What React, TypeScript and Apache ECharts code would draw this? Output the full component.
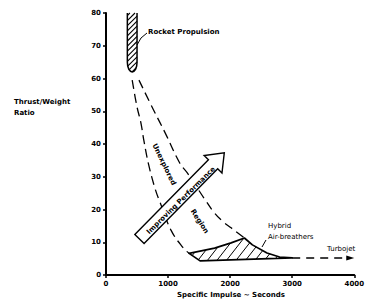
import React, { useEffect, useRef } from "react";
import * as echarts from "echarts";

const xAxisTicks = [0, 1000, 2000, 3000, 4000];
const yAxisTicks = [0, 10, 20, 30, 40, 50, 60, 70, 80];

// Rocket propulsion region (hatched)
const rocketX = [344, 344, 350, 368, 395, 422, 449, 476, 494, 500, 500];
const rocketY = [80, 65, 63.8, 62.8, 62.2, 62, 62.2, 62.8, 63.8, 65, 80];

// Hybrid air-breathers region (hatched)
const hybridX = [1339, 1750, 2016, 2230, 2359, 2594, 2797, 3000, 1516];
const hybridY = [6.6, 8.2, 9.8, 11.3, 9.2, 6.7, 5.5, 5.2, 4.3];

// Unexplored region bounds (dashed)
const lowerBoundX = [422, 500, 563, 609, 688, 797, 875, 1047, 1234, 1339];
const lowerBoundY = [59.5, 51.3, 46.4, 41.2, 33.6, 26.0, 22.0, 13.7, 8.5, 6.6];
const upperBoundX = [531, 766, 953, 1188, 1313, 1578, 1750, 1891, 2016, 2230];
const upperBoundY = [59.5, 50.4, 43.4, 34.2, 31.1, 23.5, 18.9, 16.2, 14.4, 11.3];

// Turbojet dashed arrow
const turbojetX = [3000, 4000];
const turbojetY = [5.2, 5.2];

// Improving performance arrow (tail -> tip)
const performanceArrowX = [539, 1906];
const performanceArrowY = [11.0, 37.3];

type Pt = number[];

function hatch(pts: Pt[], angleDeg: number, spacing: number): Pt[][] {
  const a = (angleDeg * Math.PI) / 180;
  const d = [Math.cos(a), -Math.sin(a)];
  const n = [Math.sin(a), Math.cos(a)];
  let min = Infinity;
  let max = -Infinity;
  pts.forEach((p) => {
    const c = n[0] * p[0] + n[1] * p[1];
    if (c < min) min = c;
    if (c > max) max = c;
  });
  const segs: Pt[][] = [];
  for (let c = min + spacing / 2; c < max; c += spacing) {
    const hits: Pt[] = [];
    for (let i = 0; i < pts.length; i++) {
      const p = pts[i];
      const q = pts[(i + 1) % pts.length];
      const fa = n[0] * p[0] + n[1] * p[1] - c;
      const fb = n[0] * q[0] + n[1] * q[1] - c;
      if (fa < 0 !== fb < 0) {
        const t = fa / (fa - fb);
        hits.push([p[0] + t * (q[0] - p[0]), p[1] + t * (q[1] - p[1])]);
      }
    }
    hits.sort((u, v) => d[0] * u[0] + d[1] * u[1] - (d[0] * v[0] + d[1] * v[1]));
    for (let k = 0; k + 1 < hits.length; k += 2) segs.push([hits[k], hits[k + 1]]);
  }
  return segs;
}

const BOLD = 'bold 7px "DejaVu Sans"';
const NORMAL = '7px "DejaVu Sans"';

export default function App() {
  const ref = useRef<HTMLDivElement>(null);
  useEffect(() => {
    if (!ref.current) return;
    const chart = echarts.init(ref.current, null, { renderer: "svg" });
    const pairs = (xs: number[], ys: number[]) => xs.map((x, i) => [x, ys[i]]);

    const renderItem = (_params: any, api: any) => {
      const toPx = (xs: number[], ys: number[]) => xs.map((x, i) => api.coord([x, ys[i]]));
      const children: any[] = [];
      const rocket = toPx(rocketX, rocketY);
      hatch(rocket, 45, 3.6).forEach((s) =>
        children.push({
          type: "line",
          shape: { x1: s[0][0], y1: s[0][1], x2: s[1][0], y2: s[1][1] },
          style: { stroke: "#000", lineWidth: 1.1 },
        })
      );
      children.push({
        type: "polyline",
        shape: { points: rocket },
        style: { stroke: "#000", fill: "none", lineWidth: 1.5 },
      });
      const hybrid = toPx(hybridX, hybridY);
      hatch(hybrid, 52, 7.5).forEach((s) =>
        children.push({
          type: "line",
          shape: { x1: s[0][0], y1: s[0][1], x2: s[1][0], y2: s[1][1] },
          style: { stroke: "#000", lineWidth: 1 },
        })
      );
      children.push({
        type: "polygon",
        shape: { points: hybrid },
        style: { stroke: "#000", fill: "none", lineWidth: 1.7, lineJoin: "round" },
      });
      // turbojet
      const t = toPx(turbojetX, turbojetY);
      children.push({
        type: "line",
        shape: { x1: t[0][0], y1: t[0][1], x2: t[1][0] - 6, y2: t[1][1] },
        style: { stroke: "#000", lineWidth: 1.5, lineDash: [8, 6] },
      });
      children.push({
        type: "polygon",
        shape: {
          points: [
            [t[1][0], t[1][1]],
            [t[1][0] - 8, t[1][1] - 2.5],
            [t[1][0] - 8, t[1][1] + 2.5],
          ],
        },
        style: { fill: "#000" },
      });
      // improving performance arrow
      const ar = toPx(performanceArrowX, performanceArrowY);
      const T = ar[0];
      const P = ar[1];
      const L = Math.hypot(P[0] - T[0], P[1] - T[1]);
      const u = [(P[0] - T[0]) / L, (P[1] - T[1]) / L];
      const nv = [-u[1], u[0]];
      const hw = 6.5;
      const hh = 12.5;
      const hl = 16;
      const B = [P[0] - u[0] * hl, P[1] - u[1] * hl];
      const off = (p: Pt, k: number) => [p[0] + nv[0] * k, p[1] + nv[1] * k];
      children.push({
        type: "polygon",
        shape: {
          points: [off(T, hw), off(B, hw), off(B, hh), P, off(B, -hh), off(B, -hw), off(T, -hw)],
        },
        style: { fill: "#fff", stroke: "#000", lineWidth: 1.4, lineJoin: "miter" },
      });
      return { type: "group", children };
    };

    const txt = (text: string, x: number, y: number, font: string, extra: any = {}) => ({
      type: "text",
      x,
      y,
      z: 100,
      rotation: extra.rotation || 0,
      style: {
        text,
        font,
        fill: "#000",
        align: extra.align || "left",
        verticalAlign: "middle",
        lineHeight: extra.lineHeight,
      },
    });
    const deg = (d: number) => (d * Math.PI) / 180;

    chart.setOption({
      animation: false,
      backgroundColor: "#fff",
      grid: { left: 106, right: 5, top: 13, bottom: 27, containLabel: false },
      xAxis: {
        type: "value",
        min: xAxisTicks[0],
        max: xAxisTicks[xAxisTicks.length - 1],
        interval: 1000,
        splitLine: { show: false },
        axisLine: { show: true, lineStyle: { color: "#000", width: 2 } },
        axisTick: { show: true, length: 3, lineStyle: { color: "#000", width: 1.5 } },
        axisLabel: {
          color: "#000",
          fontFamily: "DejaVu Sans",
          fontWeight: "bold",
          fontSize: 7,
          margin: 5,
          showMaxLabel: true,
          formatter: (v: number) => String(v),
        },
      },
      yAxis: {
        type: "value",
        min: yAxisTicks[0],
        max: yAxisTicks[yAxisTicks.length - 1],
        interval: 10,
        splitLine: { show: false },
        axisLine: { show: true, lineStyle: { color: "#000", width: 2 } },
        axisTick: { show: true, length: 3, lineStyle: { color: "#000", width: 1.5 } },
        axisLabel: {
          color: "#000",
          fontFamily: "DejaVu Sans",
          fontWeight: "bold",
          fontSize: 7,
          margin: 5,
          formatter: (v: number) => String(v),
        },
      },
      series: [
        {
          type: "line",
          data: pairs(lowerBoundX, lowerBoundY),
          smooth: 0.4,
          showSymbol: false,
          symbol: "none",
          lineStyle: { color: "#000", width: 1.3, type: [9, 5] },
          z: 2,
        },
        {
          type: "line",
          data: pairs(upperBoundX, upperBoundY),
          smooth: 0.4,
          showSymbol: false,
          symbol: "none",
          lineStyle: { color: "#000", width: 1.3, type: [9, 5] },
          z: 2,
        },
        {
          type: "custom",
          coordinateSystem: "cartesian2d",
          data: [[0, 0]],
          renderItem,
          clip: false,
          silent: true,
          z: 5,
        },
      ],
      graphic: [
        txt("Thrust/Weight\nRatio", 14, 107, BOLD, { lineHeight: 11 }),
        txt("Specific Impulse ~ Seconds", 231, 295, BOLD, { align: "center" }),
        txt("Rocket Propulsion", 148, 32, BOLD),
        txt("Hybrid", 268, 226, NORMAL),
        txt("Air-breathers", 268, 237, NORMAL),
        txt("Turbojet", 327, 249, NORMAL),
        txt("Unexplored", 164, 164.5, BOLD, { align: "center", rotation: deg(-64) }),
        txt("Region", 199.5, 221.5, BOLD, { align: "center", rotation: deg(-57) }),
        txt("Improving Performance", 181, 200.5, BOLD, { align: "center", rotation: deg(44.5) }),
        {
          type: "polyline",
          z: 100,
          shape: { points: [[137, 45], [141, 38], [147, 33]] },
          style: { stroke: "#000", lineWidth: 1, fill: "none" },
        },
        {
          type: "line",
          z: 100,
          shape: { x1: 262, y1: 247, x2: 266, y2: 240 },
          style: { stroke: "#000", lineWidth: 1 },
        },
      ],
    });
    return () => chart.dispose();
  }, []);
  return (
    <div
      ref={ref}
      style={{ position: "fixed", left: 0, top: 0, width: 367, height: 302, background: "#fff" }}
    />
  );
}
